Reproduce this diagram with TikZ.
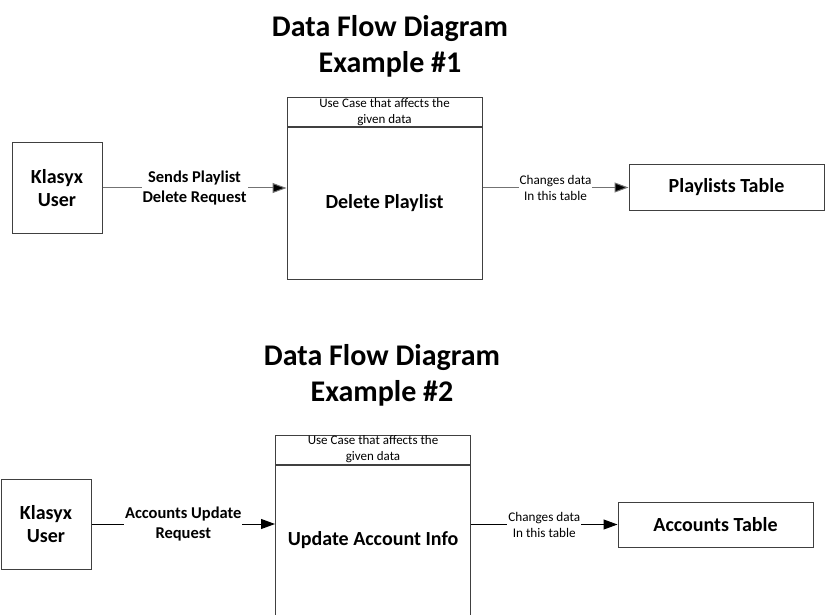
\documentclass[tikz,border=0pt]{standalone}
\usepackage{fontspec}
\setmainfont{Carlito}
\usetikzlibrary{arrows.meta}
\begin{document}
\begin{tikzpicture}[x=1pt, y=-1pt,
	box/.style={draw=black!75, line width=1pt, inner sep=0pt, align=center},
	title/.style={align=center, font=\bfseries\fontsize{30}{36}\selectfont},
	actor/.style={box, minimum width=90, minimum height=90, font=\bfseries\fontsize{20}{23}\selectfont},
	header/.style={box, minimum width=195, minimum height=29, font=\fontsize{13}{16}\selectfont},
	usecase/.style={box, minimum width=195, anchor=north, font=\bfseries\fontsize{20}{23}\selectfont},
	table/.style={box, minimum width=195, minimum height=45, font=\bfseries\fontsize{20}{23}\selectfont},
	flow/.style={line width=1pt, -{Triangle[length=14pt, width=10pt, fill=black]}},
	flowlabel/.style={fill=white, inner sep=1pt, align=center, font=\bfseries\fontsize{16.5}{20}\selectfont},
	datalabel/.style={fill=white, inner sep=1pt, align=center, font=\fontsize{13.2}{16}\selectfont}]
	\useasboundingbox (0,0) rectangle (825,615);
	% Example 1
	\node[title] (title1) at (390,46) {Data Flow Diagram\\Example \#1};
	\node[actor] (user1) at (57,188) {Klasyx\\User};
	\node[header] (head1) at (384.5,112.5) {Use Case that affects the\\given data};
	\node[usecase, minimum height=151] (uc1) at (head1.south) {Delete Playlist};
	\node[table] (tab1) at (726.5,187.5) {Playlists Table};
	\draw[flow, draw=black!55] (user1) -- (user1 -| uc1.west) node[midway, flowlabel] {Sends Playlist\\Delete Request};
	\draw[flow, draw=black!55] (tab1 -| uc1.east) -- (tab1) node[midway, datalabel] {Changes data\\In this table};
	% Example 2
	\node[title] (title2) at (382,375) {Data Flow Diagram\\Example \#2};
	\node[actor] (user2) at (46,524) {Klasyx\\User};
	\node[header] (head2) at (373,449.5) {Use Case that affects the\\given data};
	\node[usecase, minimum height=150] (uc2) at (head2.south) {Update Account Info};
	\node[table] (tab2) at (715.5,524.5) {Accounts Table};
	\draw[flow] (user2) -- (user2 -| uc2.west) node[midway, flowlabel] {Accounts Update\\Request};
	\draw[flow] (tab2 -| uc2.east) -- (tab2) node[midway, datalabel] {Changes data\\In this table};
\end{tikzpicture}
\end{document}
